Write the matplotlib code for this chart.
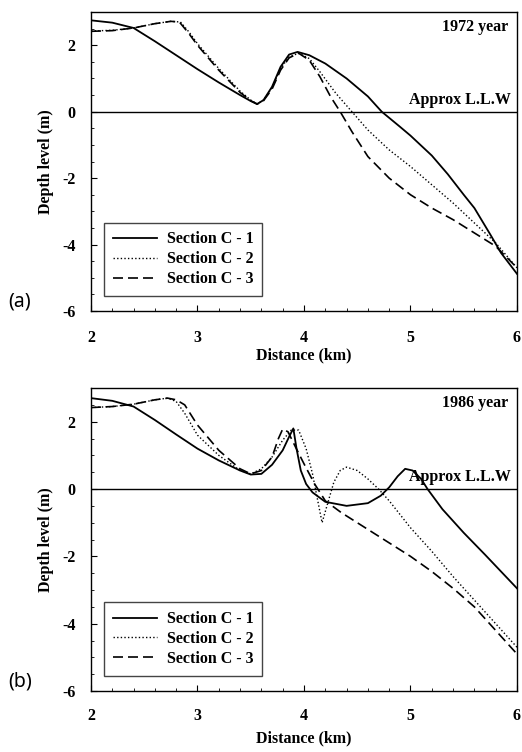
import matplotlib
matplotlib.use("Agg")
import matplotlib.pyplot as plt
from matplotlib.ticker import MultipleLocator

plt.rcParams['font.family'] = ['Liberation Serif', 'DejaVu Serif']
plt.rcParams['font.weight'] = 'bold'
plt.rcParams['axes.unicode_minus'] = False

# 1972 profiles
x72_c1 = [2.0, 2.2, 2.4, 2.6, 2.8, 3.0, 3.2, 3.4, 3.5, 3.56, 3.62, 3.7, 3.78, 3.86, 3.94,
          4.05, 4.2, 4.4, 4.6, 4.73, 4.9, 5.0, 5.2, 5.35, 5.5, 5.6, 5.75, 5.85, 6.0]
y72_c1 = [2.75, 2.68, 2.52, 2.12, 1.7, 1.28, 0.88, 0.5, 0.32, 0.23, 0.35, 0.75, 1.35, 1.72, 1.8,
          1.7, 1.45, 1.0, 0.46, 0.0, -0.45, -0.72, -1.32, -1.88, -2.5, -2.9, -3.7, -4.25, -4.88]

x72_c2 = [2.0, 2.2, 2.4, 2.6, 2.75, 2.84, 2.92, 3.0, 3.2, 3.4, 3.5, 3.56, 3.62, 3.7, 3.78, 3.86,
          3.95, 4.05, 4.15, 4.3, 4.45, 4.6, 4.8, 5.0, 5.2, 5.4, 5.6, 5.8, 6.0]
y72_c2 = [2.43, 2.45, 2.52, 2.65, 2.72, 2.7, 2.4, 2.05, 1.3, 0.62, 0.35, 0.23, 0.35, 0.72, 1.3, 1.65,
          1.76, 1.6, 1.2, 0.55, 0.0, -0.55, -1.15, -1.65, -2.2, -2.75, -3.35, -3.95, -4.7]

x72_c3 = [2.0, 2.2, 2.4, 2.6, 2.75, 2.83, 2.92, 3.0, 3.2, 3.4, 3.5, 3.56, 3.62, 3.7, 3.78, 3.86,
          3.95, 4.05, 4.15, 4.25, 4.34, 4.45, 4.6, 4.8, 5.0, 5.2, 5.4, 5.6, 5.8, 6.0]
y72_c3 = [2.42, 2.44, 2.52, 2.65, 2.72, 2.7, 2.35, 2.0, 1.25, 0.58, 0.33, 0.23, 0.33, 0.68, 1.25, 1.62,
          1.76, 1.55, 1.05, 0.45, 0.0, -0.6, -1.35, -2.0, -2.5, -2.9, -3.25, -3.65, -4.05, -4.7]

# 1986 profiles
x86_c1 = [2.0, 2.2, 2.4, 2.6, 2.8, 3.0, 3.2, 3.4, 3.5, 3.6, 3.7, 3.8, 3.86, 3.9, 3.93, 3.97,
          4.02, 4.08, 4.2, 4.4, 4.6, 4.72, 4.8, 4.88, 4.95, 5.02, 5.1, 5.16, 5.3, 5.5, 5.7, 5.85, 6.0]
y86_c1 = [2.7, 2.62, 2.45, 2.05, 1.62, 1.2, 0.85, 0.55, 0.43, 0.45, 0.72, 1.15, 1.55, 1.8, 1.2, 0.55,
          0.15, -0.1, -0.38, -0.5, -0.42, -0.2, 0.05, 0.38, 0.6, 0.55, 0.3, 0.0, -0.6, -1.3, -1.95, -2.45, -2.95]

x86_c2 = [2.0, 2.2, 2.4, 2.6, 2.72, 2.8, 2.88, 3.0, 3.2, 3.4, 3.5, 3.6, 3.7, 3.8, 3.88, 3.95,
          4.02, 4.08, 4.12, 4.17, 4.22, 4.28, 4.34, 4.4, 4.5, 4.6, 4.7, 4.8, 5.0, 5.2, 5.4, 5.6, 5.8, 6.0]
y86_c2 = [2.42, 2.45, 2.52, 2.65, 2.7, 2.6, 2.25, 1.6, 1.0, 0.55, 0.45, 0.6, 0.95, 1.45, 1.75, 1.75,
          1.2, 0.45, -0.2, -1.0, -0.45, 0.2, 0.55, 0.65, 0.55, 0.3, 0.0, -0.35, -1.15, -1.85, -2.6, -3.3, -4.0, -4.7]

x86_c3 = [2.0, 2.2, 2.4, 2.6, 2.72, 2.8, 2.88, 3.0, 3.2, 3.4, 3.5, 3.6, 3.7, 3.76, 3.8, 3.85,
          3.92, 4.0, 4.1, 4.2, 4.35, 4.5, 4.7, 5.0, 5.2, 5.4, 5.6, 5.8, 6.0]
y86_c3 = [2.42, 2.45, 2.52, 2.65, 2.7, 2.65, 2.5, 1.9, 1.15, 0.6, 0.45, 0.55, 0.95, 1.5, 1.78, 1.7,
          1.25, 0.75, 0.15, -0.35, -0.7, -1.0, -1.4, -2.0, -2.45, -2.95, -3.5, -4.2, -4.9]

panels = [
    ("1972 year", "(a)", [0.1743, 0.5864, 0.8161, 0.3976], 14, 1,
     [(x72_c1, y72_c1), (x72_c2, y72_c2), (x72_c3, y72_c3)]),
    ("1986 year", "(b)", [0.1743, 0.0811, 0.8161, 0.4029], 12, 5,
     [(x86_c1, y86_c1), (x86_c2, y86_c2), (x86_c3, y86_c3)]),
]
labels = ["Section C - 1", "Section C - 2", "Section C - 3"]
styles = [dict(ls='-', lw=1.3), dict(ls=(0, (1, 1.6)), lw=1.0), dict(ls=(0, (6, 3)), lw=1.2)]
fs = 11.5

fig = plt.figure(figsize=(5.22, 7.52), dpi=100)

for year, tag, rect, xpad, xlpad, series in panels:
    ax = fig.add_axes(rect)
    for (xs, ys), lab, st in zip(series, labels, styles):
        ax.plot(xs, ys, color='black', label=lab, **st)
    ax.axhline(0, color='black', lw=1.0)
    ax.set_xlim(2, 6)
    ax.set_ylim(-6, 3)
    ax.set_xticks([2, 3, 4, 5, 6])
    ax.set_yticks([-6, -4, -2, 0, 2])
    ax.xaxis.set_minor_locator(MultipleLocator(0.2))
    ax.yaxis.set_minor_locator(MultipleLocator(0.5))
    ax.tick_params(which='both', direction='in', labelsize=fs)
    ax.tick_params(which='major', length=4)
    ax.tick_params(which='minor', length=2)
    ax.tick_params(axis='x', which='major', pad=xpad)
    ax.tick_params(axis='y', which='major', pad=11)
    for sp in ax.spines.values():
        sp.set_linewidth(1.0)
    ax.set_xlabel("Distance (km)", fontsize=fs, fontweight='bold', labelpad=xlpad)
    ax.set_ylabel("Depth level (m)", fontsize=fs, fontweight='bold', labelpad=6)
    ax.text(0.98, 0.95, year, transform=ax.transAxes, ha='right', va='center',
            fontsize=fs, fontweight='bold')
    ax.text(0.985, 0.12, "Approx L.L.W", transform=ax.get_yaxis_transform(),
            ha='right', va='bottom', fontsize=fs, fontweight='bold')
    leg = ax.legend(loc='lower left', bbox_to_anchor=(0.03, 0.05), borderaxespad=0,
                    fontsize=fs, handlelength=2.8, fancybox=False, edgecolor='#444444',
                    framealpha=1, borderpad=0.55, labelspacing=0.25, handletextpad=0.6)
    leg.get_frame().set_linewidth(1.0)
    fig.text(0.015, rect[1] + 0.013, tag, fontsize=14, fontweight='normal',
             family=['Noto Sans', 'DejaVu Sans'], ha='left', va='center')

fig.savefig("out.png", dpi=100)
